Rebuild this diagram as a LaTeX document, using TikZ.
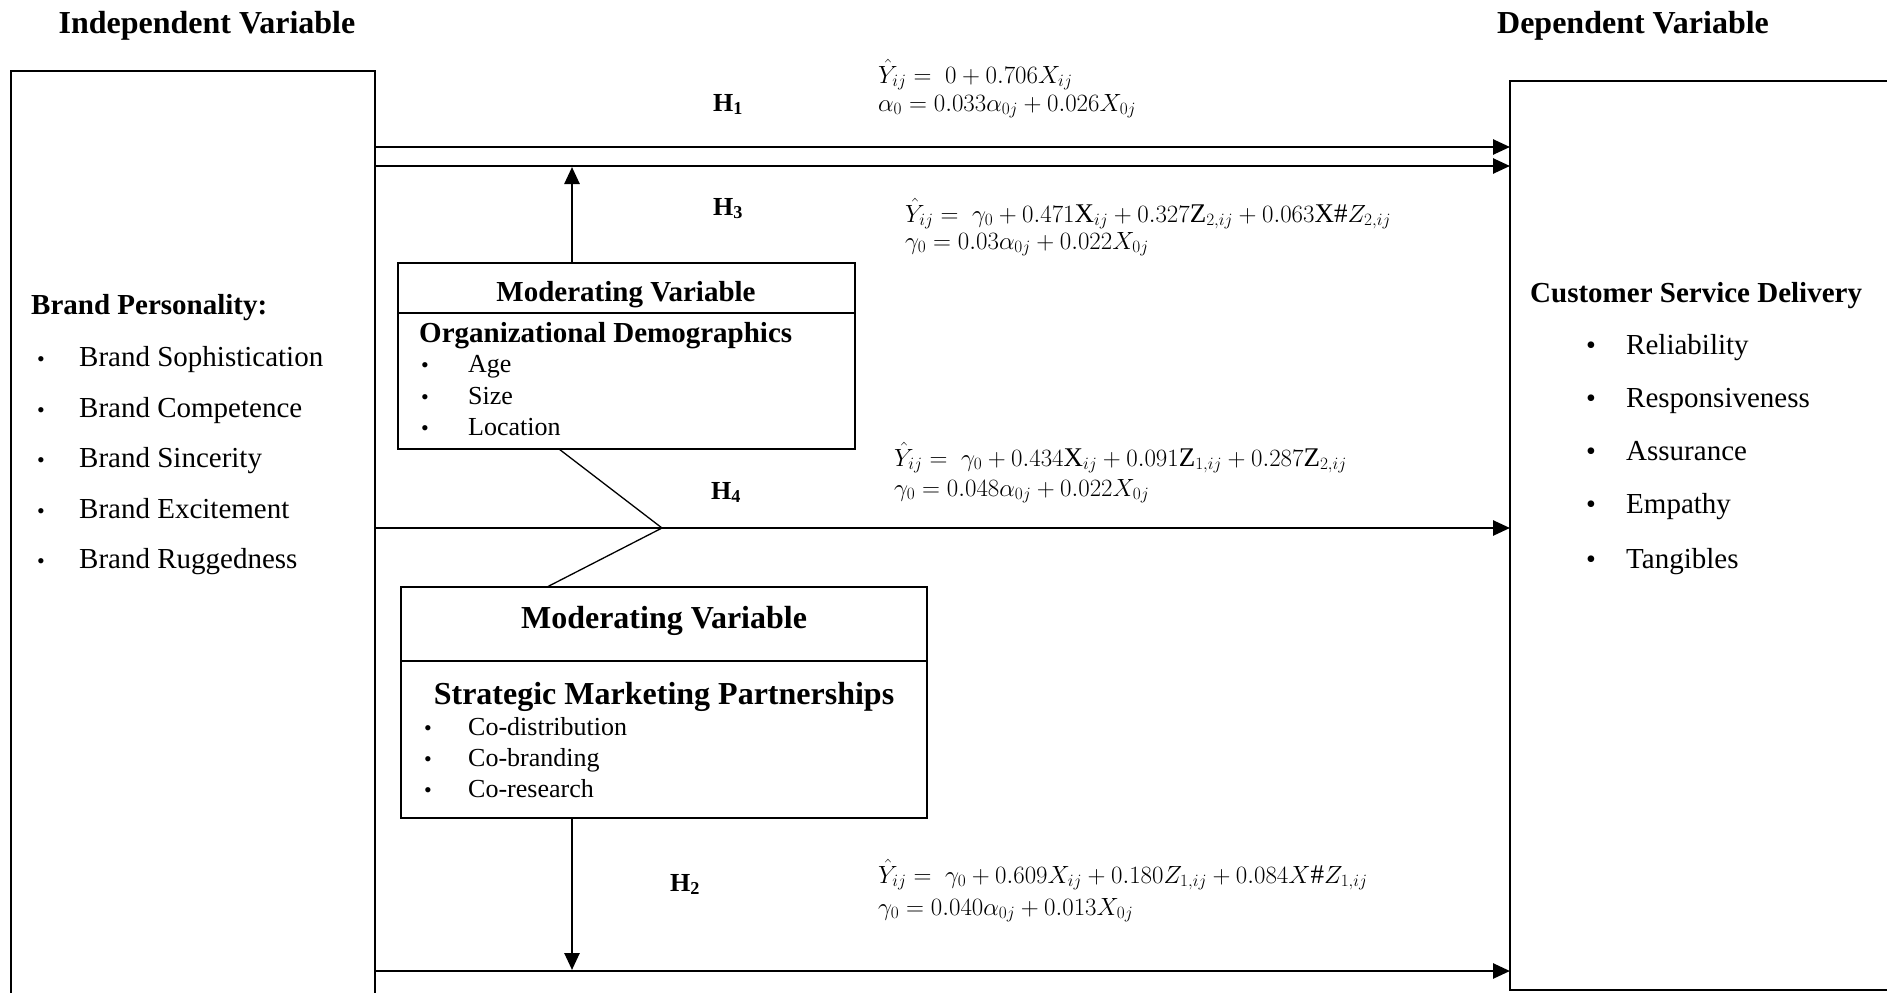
\documentclass[tikz,border=0pt]{standalone}
\usepackage{fontspec}
\setmainfont{Liberation Serif}
\usetikzlibrary{arrows.meta}
\begin{document}
\begin{tikzpicture}[x=1pt,y=-1pt,
  box/.style={draw, line width=1.6pt, inner sep=0pt, outer sep=0pt, anchor=north west},
  conn/.style={line width=2.6pt, -{Triangle[length=17pt,width=15pt]}},
  zig/.style={line width=1.3pt},
  txt/.style={inner sep=0pt, anchor=base west, font=\fontsize{29}{34}\selectfont},
  btxt/.style={inner sep=0pt, anchor=base west, font=\bfseries\fontsize{29}{34}\selectfont},
  stxt/.style={inner sep=0pt, anchor=base west, font=\fontsize{26}{30}\selectfont},
  bul/.style={inner sep=0pt, anchor=base, font=\fontsize{22}{26}\selectfont},
  bigbul/.style={inner sep=0pt, anchor=base, font=\fontsize{28}{32}\selectfont},
  hlab/.style={inner sep=0pt, anchor=base, font=\bfseries\fontsize{26}{30}\selectfont},
  eq/.style={inner sep=0pt, anchor=base west, text height=18pt, text depth=6pt, font=\fontsize{27}{31}\selectfont},
  title/.style={inner sep=0pt, anchor=base, font=\bfseries\fontsize{32}{38}\selectfont}
]
\clip (0,0) rectangle (1887,993);
\fill[white] (0,0) rectangle (1887,993);

% boxes
\node[box, minimum width=364pt, minimum height=960pt] (lb) at (11,71) {};
\node[box, minimum width=400pt, minimum height=909pt] (rb) at (1510,81) {};
\node[box, minimum width=457pt, minimum height=50pt] (orgt) at (398,263) {};
\node[box, minimum width=457pt, minimum height=136pt] (orgb) at (398,313) {};
\node[box, minimum width=526pt, minimum height=74pt] (smt) at (401,587) {};
\node[box, minimum width=526pt, minimum height=157pt] (smb) at (401,661) {};

% titles
\node[title] (iv) at (207,33) {Independent Variable};
\node[title] (dv) at (1633,33) {Dependent Variable};

% left box text
\node[btxt] (bp) at (31,314) {Brand Personality:};
\foreach \y/\t/\n in {366/Brand Sophistication/l1, 417/Brand Competence/l2, 467/Brand Sincerity/l3, 518/Brand Excitement/l4, 568/Brand Ruggedness/l5}{
  \node[bul] (b\n) at (41,\y) {\textbullet};
  \node[txt] (\n) at (79,\y) {\t};
}

% right box text
\node[btxt] (csd) at (1530,302) {Customer Service Delivery};
\foreach \y/\t/\n in {354/Reliability/r1, 407/Responsiveness/r2, 460/Assurance/r3, 513/Empathy/r4, 568/Tangibles/r5}{
  \node[bigbul] (b\n) at (1591,\y) {\textbullet};
  \node[txt] (\n) at (1626,\y) {\t};
}

% organizational demographics box
\node[inner sep=0pt, anchor=base, font=\bfseries\fontsize{29}{34}\selectfont] (omv) at (626,301) {Moderating Variable};
\node[btxt] (od) at (419,342) {Organizational Demographics};
\foreach \y/\t/\n in {372/Age/o1, 404/Size/o2, 435/Location/o3}{
  \node[bul] (b\n) at (425,\y) {\textbullet};
  \node[stxt] (\n) at (468,\y) {\t};
}

% strategic marketing partnerships box
\node[title] (smv) at (664,628) {Moderating Variable};
\node[title] (smp) at (664,704) {Strategic Marketing Partnerships};
\foreach \y/\t/\n in {735/Co-distribution/s1, 766/Co-branding/s2, 797/Co-research/s3}{
  \node[bul] (b\n) at (428,\y) {\textbullet};
  \node[stxt] (\n) at (468,\y) {\t};
}

% connectors
\draw[conn] (lb.east |- 0,147) -- (rb.west |- 0,147);
\draw[conn] (lb.east |- 0,166) -- (rb.west |- 0,166);
\draw[conn] (lb.east |- 0,528) -- (rb.west |- 0,528);
\draw[conn] (lb.east |- 0,971) -- (rb.west |- 0,971);
\coordinate (uptip) at (572,167);
\coordinate (dntip) at (572,970);
\draw[conn] (orgt.north -| uptip) -- (uptip);
\draw[conn] (smb.south -| dntip) -- (dntip);
\coordinate (zz) at (662,528);
\draw[zig] (orgb.south -| 559,0) -- (zz) -- (smt.north -| 547,0);

% hypothesis labels
\node[hlab] (h1) at (728,111) {H\textsubscript{1}};
\node[hlab] (h3) at (728,215) {H\textsubscript{3}};
\node[hlab] (h4) at (726,499) {H\textsubscript{4}};
\node[hlab] (h2) at (685,891) {H\textsubscript{2}};

% equations
\node[eq] (e1a) at (878,83) {$\hat{Y}_{ij} =\; 0 + 0.706X_{ij}$};
\node[eq] (e1b) at (878,111) {$\alpha_0 = 0.033\alpha_{0j} + 0.026X_{0j}$};
\node[eq] (e3a) at (905,222) {$\hat{Y}_{ij} =\; \gamma_0 + 0.471\mathrm{X}_{ij} + 0.327\mathrm{Z}_{2,ij} + 0.063\mathrm{X}\#Z_{2,ij}$};
\node[eq] (e3b) at (905,249) {$\gamma_0 = 0.03\alpha_{0j} + 0.022X_{0j}$};
\node[eq] (e4a) at (894,466) {$\hat{Y}_{ij} =\; \gamma_0 + 0.434\mathrm{X}_{ij} + 0.091\mathrm{Z}_{1,ij} + 0.287\mathrm{Z}_{2,ij}$};
\node[eq] (e4b) at (894,496) {$\gamma_0 = 0.048\alpha_{0j} + 0.022X_{0j}$};
\node[eq] (e2a) at (878,883) {$\hat{Y}_{ij} =\; \gamma_0 + 0.609X_{ij} + 0.180Z_{1,ij} + 0.084X\#Z_{1,ij}$};
\node[eq] (e2b) at (878,915) {$\gamma_0 = 0.040\alpha_{0j} + 0.013X_{0j}$};
\end{tikzpicture}
\end{document}
